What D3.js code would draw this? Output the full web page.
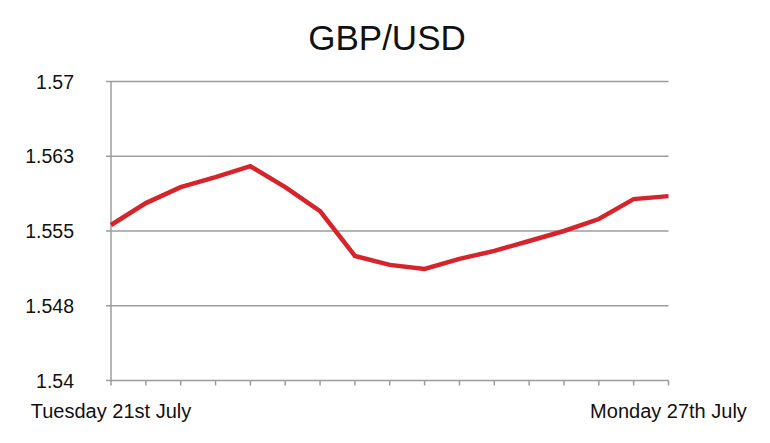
<!DOCTYPE html>
<html><head><meta charset="utf-8">
<script src="https://cdn.jsdelivr.net/npm/d3@7"></script>
<style>
html,body{margin:0;padding:0;background:#fff;}
svg{display:block;font-family:"Liberation Sans",Arial,Helvetica,sans-serif;}
</style></head>
<body>
<svg id="chart" width="770" height="443"></svg>
<script>
const title = "GBP/USD";
const values = [1.5556, 1.5578, 1.5594, 1.5604, 1.5615, 1.5594, 1.5570, 1.5525, 1.5516, 1.5512, 1.5522, 1.5530, 1.5540, 1.5550, 1.5562, 1.5582, 1.5585];
const yTicks = [1.54, 1.5475, 1.555, 1.5625, 1.57];
const yTickLabels = ["1.54", "1.548", "1.555", "1.563", "1.57"];
const xEndLabels = ["Tuesday 21st July", "Monday 27th July"];

(function () {
const svg = d3.select("#chart");
const mLeft = 111, mRight = 668.5, mTop = 81.5, mBottom = 380.5;
const x = d3.scaleLinear().domain([0, values.length - 1]).range([mLeft, mRight]);
const y = d3.scaleLinear().domain([1.54, 1.57]).range([mBottom, mTop]);
const grey = "#9a9d9f";

svg.append("text").attr("x", 387).attr("y", 50).attr("text-anchor", "middle")
  .attr("font-size", 35).attr("fill", "#111").text(title);

// gridlines
svg.append("g").selectAll("line").data(yTicks).join("line")
  .attr("x1", mLeft - 5).attr("x2", mRight)
  .attr("y1", d => y(d)).attr("y2", d => y(d))
  .attr("stroke", grey).attr("stroke-width", 1.5);

// y axis line
svg.append("line").attr("x1", mLeft).attr("x2", mLeft).attr("y1", mTop).attr("y2", mBottom)
  .attr("stroke", grey).attr("stroke-width", 1.5);

// x ticks
svg.append("g").selectAll("line").data(d3.range(values.length)).join("line")
  .attr("x1", d => x(d)).attr("x2", d => x(d))
  .attr("y1", mBottom).attr("y2", mBottom + 5)
  .attr("stroke", grey).attr("stroke-width", 1.5);

// y labels
svg.append("g").selectAll("text").data(yTicks).join("text")
  .attr("x", 74).attr("y", d => y(d)).attr("dy", "0.36em")
  .attr("text-anchor", "end").attr("font-size", 19.5).attr("fill", "#111")
  .text((d, i) => yTickLabels[i]);

// x end labels
svg.append("g").selectAll("text").data(xEndLabels).join("text")
  .attr("x", (d, i) => i === 0 ? x(0) : x(values.length - 1))
  .attr("y", 418).attr("text-anchor", "middle")
  .attr("font-size", 20).attr("fill", "#111").text(d => d);

// line
const line = d3.line().x((d, i) => x(i)).y(d => y(d));
svg.append("path").datum(values).attr("d", line)
  .attr("fill", "none").attr("stroke", "#d7232a").attr("stroke-width", 4.5)
  .attr("stroke-linejoin", "miter");
})();
</script>
</body></html>
